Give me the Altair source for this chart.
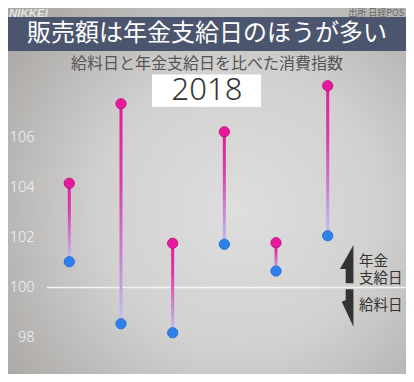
import altair as alt
import pandas as pd

# ---- data ----
periods = ["2月", "4月", "6月", "8月", "10月", "12月"]
pension_day = [104.17, 107.35, 101.77, 106.23, 101.79, 108.07]
pay_day = [101.03, 98.55, 98.19, 101.73, 100.66, 102.07]
y_ticks = [98, 100, 102, 104, 106]

title_text = "販売額は年金支給日のほうが多い"
subtitle_text = "給料日と年金支給日を比べた消費指数"
year_text = "2018"
source_text = "出所 日経POS"
brand_text = "NIKKEI"
legend_up = ["年金", "支給日"]
legend_down = "給料日"

df = pd.DataFrame({"period": periods, "pension": pension_day, "pay": pay_day})
one = pd.DataFrame({"k": [0]})

# ---- layout ----
W, H = 303, 310
PL, PT, PR, PB = 39, 54.5, 56, 1.5
JP = "Noto Sans CJK JP"

x_enc = alt.X("period:N", sort=periods, axis=None,
              scale=alt.Scale(type="point", padding=0.4315))
y_scale = alt.Scale(domain=[96.6, 109], nice=False, zero=False)
y_axis = alt.Axis(values=y_ticks, ticks=False, domain=False, grid=False, title=None,
                  labelColor="#f4f4f4", labelFont="Noto Sans", zindex=2,
                  labelFontSize=14.5, labelFontWeight=300, labelPadding=13)


def deco():
    return alt.Chart(one)


bg = deco().mark_rect(fill={
    "gradient": "radial",
    "x1": 0.58, "y1": 0.55, "r1": 0,
    "x2": 0.58, "y2": 0.55, "r2": 0.78,
    "stops": [
        {"offset": 0, "color": "#dedede"},
        {"offset": 0.45, "color": "#d2d1d0"},
        {"offset": 1, "color": "#a4a19e"},
    ],
}).encode(x=alt.value(-PL), x2=alt.value(W + PR), y=alt.value(-PT), y2=alt.value(H + PB))

band = deco().mark_rect(color="#4b556e").encode(
    x=alt.value(-PL), x2=alt.value(W + PR), y=alt.value(-45.5), y2=alt.value(-11.5))

title = deco().mark_text(text=title_text, font=JP, fontSize=24, color="#ffffff",
                         align="center", baseline="middle").encode(
    x=alt.value(160), y=alt.value(-28.5))

brand = deco().mark_text(text=brand_text, font="Liberation Sans", fontSize=11.5,
                         fontWeight="bold", fontStyle="italic", color="#e4e4e4",
                         align="left", baseline="alphabetic").encode(
    x=alt.value(-38), y=alt.value(-45.8))

source = deco().mark_text(text=source_text, font=JP, fontSize=9, color="#666666",
                          align="right", baseline="alphabetic").encode(
    x=alt.value(357), y=alt.value(-46.3))

subtitle = deco().mark_text(text=subtitle_text, font=JP, fontSize=16, color="#555555",
                            align="center", baseline="middle").encode(
    x=alt.value(160), y=alt.value(1.5))

year_box = deco().mark_rect(color="#ffffff").encode(
    x=alt.value(105), x2=alt.value(214), y=alt.value(12), y2=alt.value(44.5))

year = deco().mark_text(text=year_text, font="Noto Sans", fontSize=31, fontWeight=300,
                        color="#333333", align="center", baseline="middle").encode(
    x=alt.value(160), y=alt.value(28))

base_line = deco().mark_rule(color="#f4f4f4", strokeWidth=1.5).encode(
    y=alt.YDatum(100, scale=y_scale, axis=y_axis),
    x=alt.value(0), x2=alt.value(W + PR))

bars = alt.Chart(df).mark_bar(size=3, fill={
    "gradient": "linear", "x1": 0, "y1": 0, "x2": 0, "y2": 1,
    "stops": [
        {"offset": 0, "color": "#e2189e"},
        {"offset": 0.35, "color": "#da3aae"},
        {"offset": 1, "color": "#bcc3f3"},
    ],
}).encode(
    x=x_enc,
    y=alt.Y("pension:Q", scale=y_scale, axis=y_axis),
    y2="pay:Q",
)

pink = alt.Chart(df).mark_point(filled=True, size=105, fill="#e8199f", stroke="#c4127f",
                                strokeWidth=1, opacity=1).encode(
    x=x_enc, y=alt.Y("pension:Q", scale=y_scale, axis=y_axis))

blue = alt.Chart(df).mark_point(filled=True, size=105, fill="#2f80ec", stroke="#1f6fd9",
                                strokeWidth=1, opacity=1).encode(
    x=x_enc, y=alt.Y("pay:Q", scale=y_scale, axis=y_axis))

up_path = "M0.33,-1 L0.33,0.964 L-0.067,0.964 L-0.067,0.231 L-0.36,0.231 Z"
down_path = "M-0.067,-0.959 L0.33,-0.959 L0.33,0.959 L-0.27,-0.32 L-0.067,-0.41 Z"

arrow_up = deco().mark_point(shape=up_path, size=1521, filled=True, color="#333333",
                             opacity=1, strokeWidth=0).encode(
    x=alt.value(300), y=alt.value(202))
arrow_down = deco().mark_point(shape=down_path, size=1521, filled=True, color="#333333",
                               opacity=1, strokeWidth=0).encode(
    x=alt.value(300), y=alt.value(245.5))

lab_up = deco().mark_text(text=legend_up, font=JP, fontSize=14.5, color="#333333",
                          align="left", baseline="middle", lineHeight=17).encode(
    x=alt.value(312), y=alt.value(199))
lab_down = deco().mark_text(text=legend_down, font=JP, fontSize=14.5, color="#333333",
                            align="left", baseline="middle").encode(
    x=alt.value(312), y=alt.value(243))

chart = alt.layer(
    bg, band, title, brand, source, subtitle, year_box, year,
    base_line, bars, pink, blue, arrow_up, arrow_down, lab_up, lab_down,
).properties(
    width=W, height=H,
    padding={"left": PL, "top": PT, "right": PR, "bottom": PB},
    autosize=alt.AutoSizeParams(type="none"),
    background="#c2bfbc",
).configure_view(stroke=None)

chart.save("out.html", embed_options={"renderer": "svg", "actions": False})
